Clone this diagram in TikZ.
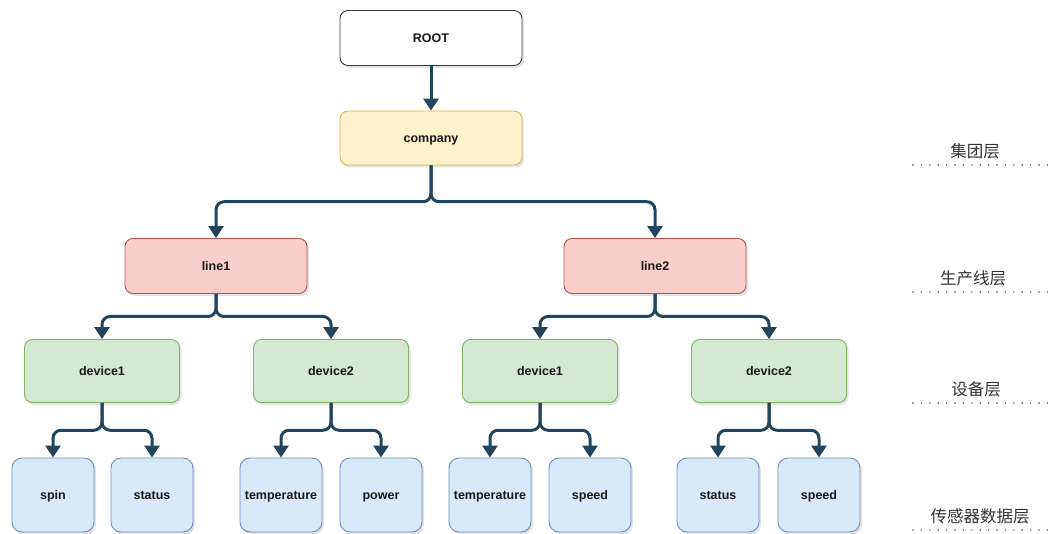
\documentclass[tikz,border=0pt]{standalone}
\usepackage{fontspec}
\setmainfont{Liberation Sans}
\newfontfamily\cjk{Noto Sans CJK SC}
\usetikzlibrary{arrows.meta,calc,shadows}
\definecolor{linkblue}{HTML}{23445D}
\definecolor{rootline}{HTML}{36393D}
\definecolor{compfill}{HTML}{FFF2CC}
\definecolor{compline}{HTML}{D6B656}
\definecolor{linefill}{HTML}{F8CECC}
\definecolor{lineline}{HTML}{B85450}
\definecolor{devfill}{HTML}{D5E8D4}
\definecolor{devline}{HTML}{82B366}
\definecolor{sensfill}{HTML}{DAE8FC}
\definecolor{sensline}{HTML}{6C8EBF}
\definecolor{levelgray}{HTML}{333333}
% one edge of the tree: down, across, down
\newcommand{\branch}[2]{%
  \draw[link] (#1.south) |- ($(#1.south)!0.5!(#2.north)$) -| (#2.north);
}
% a level caption on the right, over its dotted rule
\newcommand{\levelrow}[4]{%
  \node[levelname] (#1) at (#2,{#3-13.5}) {#4};
  \draw[levelrule] (913,#3) -- (1055,#3);
}

\begin{document}
\begin{tikzpicture}[x=1pt, y=-1pt,
  box/.style={draw, rounded corners=8pt, line width=0.9pt,
    font=\fontsize{12.5}{15}\selectfont\bfseries, text=black!90,
    text height=9pt, text depth=0pt,
    drop shadow={opacity=0.22, shadow xshift=2pt, shadow yshift=-2.5pt}},
  rootbox/.style={box, draw=rootline, fill=white, minimum width=182pt, minimum height=55pt},
  compbox/.style={box, draw=compline, fill=compfill, minimum width=182pt, minimum height=54pt},
  linebox/.style={box, draw=lineline, fill=linefill, minimum width=182pt, minimum height=55pt},
  devbox/.style={box, draw=devline, fill=devfill, minimum width=155pt, minimum height=63pt},
  sensbox/.style={box, rounded corners=10pt, draw=sensline, fill=sensfill, minimum width=82pt, minimum height=74pt},
  link/.style={draw=linkblue, line width=3pt, rounded corners=8pt,
    -{Triangle[width=15pt, length=12pt]}},
  levelname/.style={font=\cjk\fontsize{16.5}{19}\selectfont, text=levelgray},
  levelrule/.style={draw=levelgray!90, line width=1.6pt, line cap=round,
    dash pattern=on 0pt off 8.4pt}]

  \useasboundingbox (0,0) rectangle (1060,534);

  \node[rootbox] (root) at (431,38) {ROOT};
  \node[compbox] (company) at (431,138) {company};

  \node[linebox] (line1) at (216,266) {line1};
  \node[linebox] (line2) at (655,266) {line2};

  \node[devbox] (l1dev1) at (102,371) {device1};
  \node[devbox] (l1dev2) at (331,371) {device2};
  \node[devbox] (l2dev1) at (540,371) {device1};
  \node[devbox] (l2dev2) at (769,371) {device2};

  \node[sensbox] (spin)   at (53,495)  {spin};
  \node[sensbox] (stat1)  at (152,495) {status};
  \node[sensbox] (temp1)  at (281,495) {temperature};
  \node[sensbox] (power)  at (381,495) {power};
  \node[sensbox] (temp2)  at (490,495) {temperature};
  \node[sensbox] (speed1) at (590,495) {speed};
  \node[sensbox] (stat2)  at (718,495) {status};
  \node[sensbox] (speed2) at (819,495) {speed};

  \draw[link] (root) -- (company);
  \branch{company}{line1}
  \branch{company}{line2}
  \branch{line1}{l1dev1}
  \branch{line1}{l1dev2}
  \branch{line2}{l2dev1}
  \branch{line2}{l2dev2}
  \branch{l1dev1}{spin}
  \branch{l1dev1}{stat1}
  \branch{l1dev2}{temp1}
  \branch{l1dev2}{power}
  \branch{l2dev1}{temp2}
  \branch{l2dev1}{speed1}
  \branch{l2dev2}{stat2}
  \branch{l2dev2}{speed2}

  \levelrow{lvgroup}{975}{165}{集团层}
  \levelrow{lvline}{973}{292}{生产线层}
  \levelrow{lvdev}{976}{403}{设备层}
  \levelrow{lvsens}{980}{530}{传感器数据层}

\end{tikzpicture}
\end{document}
